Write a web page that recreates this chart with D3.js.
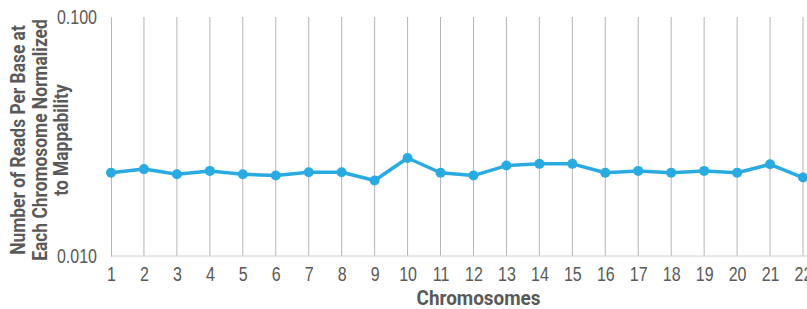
<!DOCTYPE html>
<html>
<head>
<meta charset="utf-8">
<script src="https://cdn.jsdelivr.net/npm/d3@7"></script>
<style>
  body { margin: 0; background: #fff; }
  svg { display: block; font-family: Roboto, "Noto Sans", sans-serif; }
</style>
</head>
<body>
<svg id="chart" width="807" height="309"></svg>
<script>
var chromosomes = ["1","2","3","4","5","6","7","8","9","10","11","12","13","14","15","16","17","18","19","20","21","22"];
var readsPerBase = [0.0223, 0.0231, 0.0220, 0.0227, 0.0220, 0.0217, 0.0224, 0.0224, 0.0207, 0.0257, 0.0223,
  0.0217, 0.0239, 0.0243, 0.0243, 0.0223, 0.0227, 0.0223, 0.0227, 0.0223, 0.0242, 0.0213];
var yTicks = [0.01, 0.1];
var yTitleLines = ["Number of Reads Per Base at", "Each Chromosome Normalized", "to Mappability"];

var svg = d3.select("#chart"),
  MARGINS = { top: 17, left: 111, right: 4, bottom: 53 },
  WIDTH = 807, HEIGHT = 309;

var xScale = d3.scalePoint()
  .domain(chromosomes)
  .range([MARGINS.left, WIDTH - MARGINS.right]);

var yScale = d3.scaleLog()
  .domain([0.01, 0.1])
  .range([HEIGHT - MARGINS.bottom, MARGINS.top]);

// vertical grid
svg.append("g")
  .selectAll("line")
  .data(chromosomes.slice(1))
  .enter().append("line")
  .attr("x1", function (d) { return xScale(d); })
  .attr("x2", function (d) { return xScale(d); })
  .attr("y1", MARGINS.top)
  .attr("y2", HEIGHT - MARGINS.bottom)
  .attr("stroke", "#b4b4b4")
  .attr("stroke-width", 1);

// x axis
var xAxis = d3.axisBottom(xScale).tickSize(0).tickPadding(11);
var gx = svg.append("g")
  .attr("transform", "translate(0," + (HEIGHT - MARGINS.bottom) + ")")
  .call(xAxis);
gx.select(".domain").attr("stroke", "#d0d0d0").attr("d", "M" + MARGINS.left + ",0H" + WIDTH);
gx.selectAll("text")
  .attr("fill", "#595959")
  .attr("transform", "scale(0.8,1)")
  .style("font-size", "20px")
  .style("font-weight", 300);

// y axis
var yAxis = d3.axisLeft(yScale).tickValues(yTicks).tickSize(0).tickPadding(17.5)
  .tickFormat(d3.format(".3f"));
var gy = svg.append("g")
  .attr("transform", "translate(" + MARGINS.left + ",0)")
  .call(yAxis);
gy.select(".domain").attr("stroke", "#b4b4b4");
gy.selectAll("text")
  .attr("fill", "#595959")
  .attr("transform", "scale(0.8,1)")
  .style("font-size", "20px")
  .style("font-weight", 300);

// y title
var yt = svg.append("text")
  .attr("transform", "translate(46.5,140) rotate(-90) scale(0.87,1)")
  .attr("text-anchor", "middle")
  .attr("fill", "#595959")
  .style("font-size", "20px")
  .style("font-weight", "bold");
yt.selectAll("tspan")
  .data(yTitleLines)
  .enter().append("tspan")
  .attr("x", 0)
  .attr("y", function (d, i) { return (i - 1) * 21.5; })
  .text(function (d) { return d; });

// x title
svg.append("text")
  .attr("transform", "translate(478.5,305) scale(0.945,1)")
  .attr("text-anchor", "middle")
  .attr("fill", "#595959")
  .style("font-size", "20px")
  .style("font-weight", "bold")
  .text("Chromosomes");

// series
var line = d3.line()
  .x(function (d, i) { return xScale(chromosomes[i]); })
  .y(function (d) { return yScale(d); });

svg.append("path")
  .datum(readsPerBase)
  .attr("fill", "none")
  .attr("stroke", "#29abe2")
  .attr("stroke-width", 3.5)
  .attr("stroke-linejoin", "round")
  .attr("d", line);

svg.selectAll("circle.pt")
  .data(readsPerBase)
  .enter().append("circle")
  .attr("class", "pt")
  .attr("cx", function (d, i) { return xScale(chromosomes[i]); })
  .attr("cy", function (d) { return yScale(d); })
  .attr("r", 5)
  .attr("fill", "#29abe2");
</script>
</body>
</html>
